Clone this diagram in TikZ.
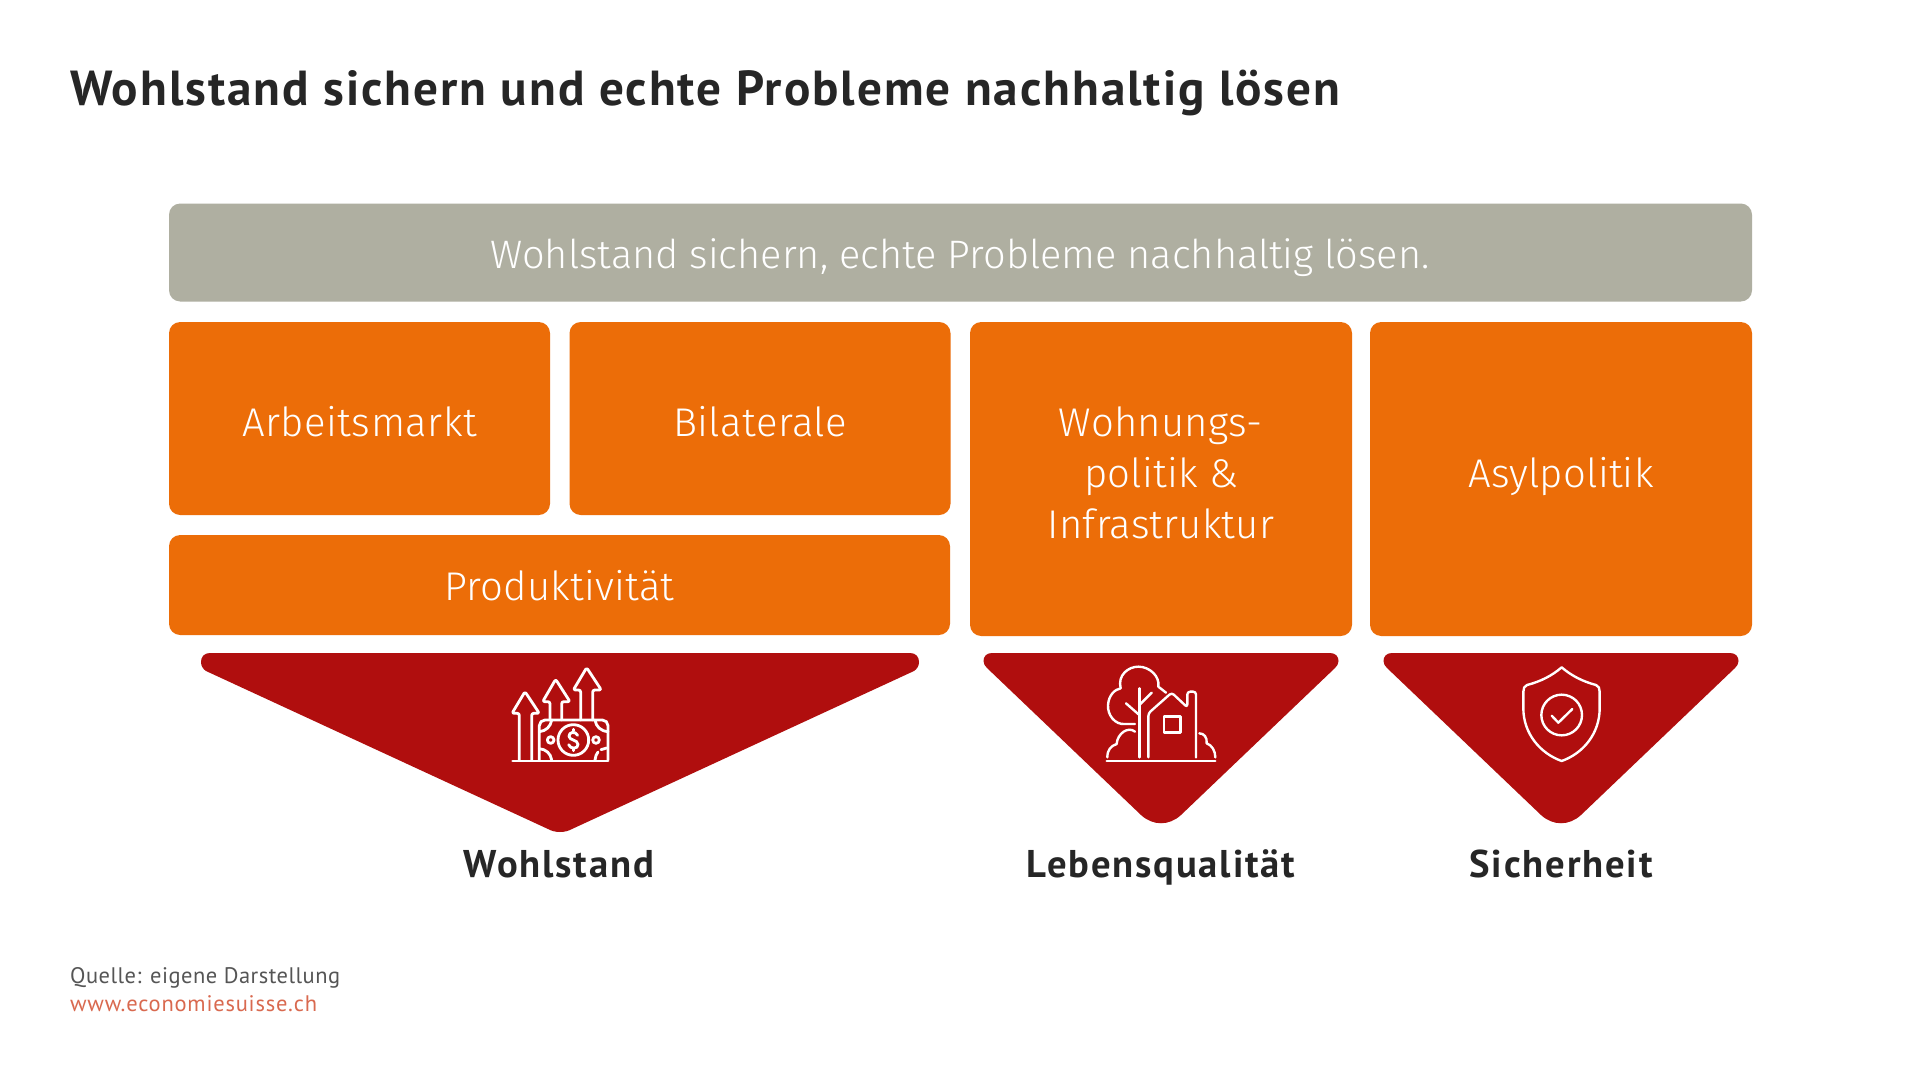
\documentclass[tikz,border=0pt]{standalone}
\usepackage{fontspec}
\setmainfont{PT Sans}
\newfontfamily\ltz{Fira Sans Light}
\newfontfamily\lt[LetterSpace=0.5]{Fira Sans Light}
\newfontfamily\lta[LetterSpace=1.2]{Fira Sans Light}
\newfontfamily\bd[LetterSpace=4.8]{PT Sans Bold}
\newfontfamily\bdt[LetterSpace=4.0]{PT Sans Bold}
\newfontfamily\rg[LetterSpace=2.2]{PT Sans}
\newfontfamily\rgw[LetterSpace=3.5]{PT Sans}
\definecolor{cgrey}{HTML}{AFAFA1}
\definecolor{corange}{HTML}{EC6D08}
\definecolor{cred}{HTML}{B00E0E}
\definecolor{cdark}{HTML}{262626}
\definecolor{cgreyt}{HTML}{555555}
\definecolor{clink}{HTML}{D9694F}
\tikzset{
 x=0.05cm,y=-0.05cm,
 box/.style={fill=corange,rounded corners=16pt,inner sep=0},
 boxtxt/.style={text=white,anchor=base,inner sep=0,font={\fontsize{57}{60}\selectfont\lt}},
 icon/.style={draw=white,line width=4pt,line cap=round,line join=round},
 iconthin/.style={draw=white,line width=3.4pt,line cap=round,line join=round},
 lab/.style={text=cdark,anchor=base,font={\fontsize{55}{60}\selectfont\bd},inner sep=0},
}
\begin{document}
\begin{tikzpicture}
\useasboundingbox (0,0) rectangle (1920,1080);
\fill[white] (0,0) rectangle (1920,1080);
\node[anchor=base west,text=cdark,inner sep=0,font={\fontsize{70}{72}\selectfont\bdt}] (title) at (70,105) {Wohlstand sichern und echte Probleme nachhaltig lösen};
\node[box,fill=cgrey,minimum width=1583*0.05cm,minimum height=98*0.05cm] (top) at (960.5,252.5) {};
\node[box,minimum width=381*0.05cm,minimum height=193*0.05cm] (arb) at (359.5,418.5) {};
\node[box,minimum width=381*0.05cm,minimum height=193*0.05cm] (bil) at (760,418.5) {};
\node[box,minimum width=781*0.05cm,minimum height=100*0.05cm] (pro) at (559.5,585) {};
\node[box,minimum width=382*0.05cm,minimum height=314*0.05cm] (woh) at (1161,479) {};
\node[box,minimum width=382*0.05cm,minimum height=314*0.05cm] (asy) at (1561,479) {};
\node[boxtxt,font={\fontsize{56.5}{60}\selectfont\ltz}] (ttop) at (960,268) {Wohlstand sichern, echte Probleme nachhaltig lösen.};
\node[boxtxt,font={\fontsize{57}{60}\selectfont\lta}] (tarb) at (359.5,436) {Arbeitsmarkt};
\node[boxtxt,font={\fontsize{57}{60}\selectfont\lta}] (tbil) at (760,436) {Bilaterale};
\node[boxtxt] (tpro) at (559.5,600) {Produktivität};
\node[boxtxt] (twa) at (1161,436) {Wohnungs-};
\node[boxtxt] (twb) at (1161,487) {politik \&};
\node[boxtxt] (twc) at (1161,538) {Infrastruktur};
\node[boxtxt] (tasy) at (1561,487) {Asylpolitik};
% triangles
\fill[cred] (210,653) .. controls (204,653) and (201,657) .. (201,662) .. controls (201,666) and (203,669) .. (206,671) -- (548,829) .. controls (555,833) and (565,833) .. (572,829) -- (914,671) .. controls (917,669) and (919,666) .. (919,662) .. controls (919,657) and (916,653) .. (910,653) -- cycle;
\foreach \dx in {0,400}{
\begin{scope}[xshift=\dx*0.05cm]
\fill[cred] (992,653) .. controls (986,653) and (983.5,657) .. (983.5,661) .. controls (983.5,664) and (985,666) .. (987,668) -- (1141,815) .. controls (1153,826) and (1169,826) .. (1181,815) -- (1335,668) .. controls (1337,666) and (1338.5,664) .. (1338.5,661) .. controls (1338.5,657) and (1336,653) .. (1330,653) -- cycle;
\end{scope}}
% icon 1
\begin{scope}[shift={(490,650)},scale=1/3]
\draw[icon,rounded corners=3pt] (88,330) -- (88,190) -- (66,190) -- (105,125) -- (148,190) -- (125,190) -- (125,330);
\draw[icon,rounded corners=3pt] (180,210) -- (180,155) -- (158,155) -- (197,88) -- (240,155) -- (215,155) -- (215,210);
\draw[icon,rounded corners=3pt] (272,210) -- (272,120) -- (250,120) -- (290,53) -- (334,120) -- (308,120) -- (308,210);
\draw[icon,rounded corners=8pt] (148,330) -- (148,210) -- (354,210) -- (354,330);
\draw[icon] (68,333) -- (354,333);
\draw[icon] (250,270) circle (46);
\draw[icon] (182,270) circle (10);
\draw[icon] (318,270) circle (10);
\draw[icon] (185,210) .. controls (182,230) and (168,243) .. (148,245);
\draw[icon] (315,210) .. controls (318,230) and (332,243) .. (354,245);
\draw[icon] (148,296) .. controls (168,298) and (182,310) .. (185,330);
\draw[icon] (315,330) .. controls (316,320) and (319,312) .. (324,306);
\draw[icon] (333,299) -- (350,294);
\draw[icon] (263,256) .. controls (256,242) and (236,246) .. (237,259) .. controls (238,272) and (263,268) .. (264,283) .. controls (265,298) and (240,298) .. (236,284);
\draw[icon] (250,243) -- (250,238) (250,296) -- (250,302);
\end{scope}
% icon 2
\begin{scope}[shift={(1090,650)},scale=1/3]
\draw[iconthin] (135,222) -- (105,222) .. controls (75,225) and (52,195) .. (54,165) .. controls (56,135) and (75,118) .. (92,115) .. controls (82,75) and (115,50) .. (145,50) .. controls (180,50) and (210,80) .. (205,110) -- (228,128);
\draw[iconthin] (148,115) -- (148,322);
\draw[iconthin] (108,160) -- (148,195);
\draw[iconthin] (185,128) -- (148,165);
\draw[iconthin,rounded corners=4pt] (175,322) -- (175,190) -- (245,128) -- (292,172) -- (292,125) -- (318,125) -- (318,322);
\draw[iconthin] (222,200) rectangle (272,248);
\draw[iconthin] (52,322) .. controls (52,300) and (62,288) .. (80,282) .. controls (82,250) and (115,228) .. (135,245);
\draw[iconthin] (328,250) .. controls (342,250) and (352,262) .. (350,280) .. controls (365,285) and (376,302) .. (376,322);
\draw[iconthin] (50,333) -- (376,333);
\end{scope}
% icon 3
\begin{scope}[shift={(1490,650)},scale=1/3]
\draw[iconthin] (215,52) .. controls (245,78) and (280,95) .. (318,105) .. controls (326,108) and (329,115) .. (329,125) -- (329,175) .. controls (329,250) and (280,310) .. (215,333) .. controls (150,310) and (100,250) .. (100,175) -- (100,125) .. controls (100,115) and (103,108) .. (111,105) .. controls (150,95) and (185,78) .. (215,52) -- cycle;
\draw[iconthin] (215,195) circle (61);
\draw[iconthin] (185,197) -- (205,218) -- (247,177);
\end{scope}
\node[lab] (l1) at (559,877) {Wohlstand};
\node[lab] (l2) at (1161,877) {Lebensqualität};
\node[lab] (l3) at (1561,877) {Sicherheit};
\node[anchor=base west,inner sep=0,text=cgreyt,font={\fontsize{32}{34}\selectfont\rg}] (q) at (70,983) {Quelle: eigene Darstellung};
\node[anchor=base west,inner sep=0,text=clink,font={\fontsize{32}{34}\selectfont\rgw}] (w) at (70,1011.5) {www.economiesuisse.ch};
\end{tikzpicture}
\end{document}
